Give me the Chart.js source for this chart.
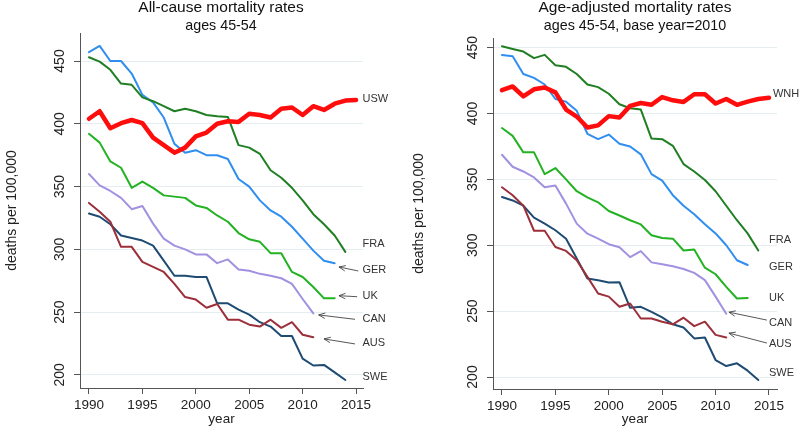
<!DOCTYPE html>
<html>
<head>
<meta charset="utf-8">
<script src="https://cdn.jsdelivr.net/npm/chart.js@4/dist/chart.umd.min.js"></script>
<style>
body { margin: 0; background: #fff; }
#wrap { display: flex; width: 800px; height: 428px; }
canvas { display: block; }
</style>
</head>
<body>
<div id="wrap">
	<canvas id="left" width="400" height="428"></canvas>
	<canvas id="right" width="400" height="428"></canvas>
</div>
<script>
var years = [1990, 1991, 1992, 1993, 1994, 1995, 1996, 1997, 1998, 1999, 2000, 2001, 2002,
	2003, 2004, 2005, 2006, 2007, 2008, 2009, 2010, 2011, 2012, 2013, 2014, 2015];
var xTicks = [1990, 1995, 2000, 2005, 2010, 2015];
var yTicks = [200, 250, 300, 350, 400, 450];

// all-cause mortality, ages 45-54 (deaths per 100,000), starting 1990
var allUSW = [404, 410, 396.5, 400.5, 403, 400.5, 389, 383, 377, 381, 390, 393, 400, 402, 401.5, 408, 407, 405, 412, 413, 407, 414, 411, 416, 418.5, 419];
var allFRA = [453, 449.5, 443, 432, 431, 421, 418, 414, 410, 412, 410, 407, 406, 405.5, 383, 381, 376, 363, 357, 349, 339, 328, 320, 311, 298];
var allGER = [457, 462, 450, 450, 440, 423, 417, 405, 384, 377, 379, 375, 375, 372, 356, 350, 339, 331, 326, 318, 308.5, 299, 291, 289];
var allUK = [392, 385, 370, 365, 349, 354, 349, 343, 342, 341, 335, 333, 327, 322, 313, 308, 306, 297, 297, 282, 278, 270, 261, 261];
var allCAN = [360, 351, 346.5, 341, 332, 334.5, 320.5, 308.5, 303, 300, 296, 296, 289, 292, 284, 283, 280.5, 279, 277, 272.5, 260.5, 249];
var allAUS = [337, 330, 322, 302, 302, 290, 286, 282, 272.5, 262, 260, 253.5, 256.5, 244, 244, 240, 238.5, 244, 237.5, 242, 232, 230];
var allSWE = [328.5, 326, 320, 311, 309, 307, 303, 291, 279, 279, 278, 278, 257, 257, 252, 248, 242, 238.5, 231, 231, 213, 207.5, 208, 202, 196];

// age-adjusted mortality, ages 45-54, base year 2010, starting 1990
var adjWNH = [417.7, 420.5, 413, 418.4, 419.7, 416, 403, 397.7, 389.4, 391, 398, 397, 405.8, 408, 406.6, 412.5, 410, 408.8, 414.6, 414.6, 407.6, 411, 406.6, 409, 411, 412];
var adjFRA = [451, 449, 447, 442, 444.5, 436.6, 435.4, 430, 422, 420, 415, 407, 404, 403, 381, 380.5, 375.5, 361.6, 356, 349.5, 341, 330, 319, 309, 296];
var adjGER = [444.4, 443.4, 430, 427, 422, 411, 409, 402, 384.6, 380.6, 384, 377, 375, 369, 354, 349, 338, 330, 323.5, 316, 309, 300, 288.6, 285];
var adjUK = [389, 383, 370.5, 370.5, 354, 358.6, 350, 341, 336.4, 332.6, 326, 322.6, 319, 315.8, 307.6, 305.5, 305, 296, 296.7, 283, 278, 268.4, 259.6, 260];
var adjCAN = [368.7, 359.6, 356, 351.5, 344, 345.3, 331.6, 316.4, 308.8, 305, 300.8, 298.5, 291, 295.5, 287, 285.5, 284, 282, 279, 273.5, 261, 248];
var adjAUS = [344, 338, 330, 311, 311, 298.7, 295.7, 288.6, 276, 263.4, 261, 253.3, 255.8, 244.4, 244.4, 242, 240, 245, 238.6, 242, 232, 230];
var adjSWE = [336.6, 334, 330, 321, 316.4, 311.4, 305, 290, 274.7, 273.5, 271.7, 272, 252.5, 253.3, 249.5, 245.3, 240, 237.6, 229.3, 230, 212.9, 208.3, 210.4, 204.8, 197.7];

var FONT = '"Liberation Sans", Arial, sans-serif';
var colors = {
	red: '#ff0d0d', FRA: '#1f7f22', GER: '#2f8ef0', UK: '#22b222',
	CAN: '#a290e0', AUS: '#9c2f3a', SWE: '#1f4b72'
};

function ucwp_points(vals) {
	return vals.map(function (v, i) { return { x: years[i], y: v }; });
}

function ucwp_series(label, vals, color, width) {
	return {
		label: label,
		data: ucwp_points(vals),
		borderColor: color,
		borderWidth: width,
		pointRadius: 0,
		tension: 0,
		borderJoinStyle: 'round',
		borderCapStyle: 'round'
	};
}

function ucwp_arrow(ctx, x1, y1, x2, y2) {
	// tail (x1,y1) -> head (x2,y2)
	var a = Math.atan2(y2 - y1, x2 - x1), len = 7;
	ctx.beginPath();
	ctx.moveTo(x1, y1);
	ctx.lineTo(x2, y2);
	ctx.moveTo(x2 - len * Math.cos(a - 0.4), y2 - len * Math.sin(a - 0.4));
	ctx.lineTo(x2, y2);
	ctx.lineTo(x2 - len * Math.cos(a + 0.4), y2 - len * Math.sin(a + 0.4));
	ctx.stroke();
}

var extras = {
	id: 'extras',
	afterDraw: function (chart, args, o) {
		var ctx = chart.ctx, xs = chart.scales.x, ys = chart.scales.y, ca = chart.chartArea;
		ctx.save();
		ctx.fillStyle = '#111';
		ctx.textAlign = 'center';
		ctx.textBaseline = 'middle';
		ctx.font = '15.5px ' + FONT;
		ctx.fillText(o.title, o.titleX, 8);
		ctx.font = '14.3px ' + FONT;
		ctx.fillText(o.subtitle, o.titleX, 26);

		// rotated y tick labels
		ctx.fillStyle = '#222';
		ctx.font = '14px ' + FONT;
		yTicks.forEach(function (v) {
			ctx.save();
			ctx.translate(ca.left - 20, ys.getPixelForValue(v));
			ctx.rotate(-Math.PI / 2);
			ctx.fillText(String(v), 0, 0);
			ctx.restore();
		});
		ctx.save();
		ctx.translate(o.yTitleX, (ca.top + ca.bottom) / 2);
		ctx.rotate(-Math.PI / 2);
		ctx.fillText('deaths per 100,000', 0, 0);
		ctx.restore();

		// series labels
		ctx.fillStyle = '#333';
		ctx.font = '11px ' + FONT;
		ctx.textAlign = 'left';
		o.labels.forEach(function (l) {
			ctx.fillText(l[0], xs.getPixelForValue(l[1]), ys.getPixelForValue(l[2]));
		});
		ctx.strokeStyle = '#444';
		ctx.lineWidth = 0.9;
		o.arrows.forEach(function (a) {
			ucwp_arrow(ctx, xs.getPixelForValue(a[0]), ys.getPixelForValue(a[1]),
				xs.getPixelForValue(a[2]), ys.getPixelForValue(a[3]));
		});
		ctx.restore();
	}
};

function ucwp_chart(canvas_id, datasets, s) {
	return new Chart(document.getElementById(canvas_id), {
		type: 'line',
		data: { datasets: datasets },
		plugins: [extras],
		options: {
			responsive: false,
			animation: false,
			layout: { padding: { top: s.top, right: s.right, left: 0, bottom: 0 } },
			plugins: {
				legend: { display: false },
				tooltip: { enabled: false },
				extras: s.extras
			},
			scales: {
				x: {
					type: 'linear',
					min: s.xMin, max: s.xMax,
					afterBuildTicks: function (sc) { sc.ticks = xTicks.map(function (v) { return { value: v }; }); },
					afterFit: function (sc) { sc.height = 428 - s.bottom; },
					grid: { drawOnChartArea: false, drawTicks: true, tickLength: 6, tickColor: '#555' },
					border: { display: true, color: '#555', width: 1 },
					ticks: {
						color: '#222', font: { family: FONT, size: 13.5 }, padding: 3,
						maxRotation: 0, autoSkip: false,
						callback: function (v) { return String(v); }
					},
					title: { display: true, text: 'year', color: '#222', font: { family: FONT, size: 13.5 }, padding: { top: 0, bottom: 1 } }
				},
				y: {
					min: s.yMin, max: s.yMax,
					afterBuildTicks: function (sc) { sc.ticks = yTicks.map(function (v) { return { value: v }; }); },
					afterFit: function (sc) { sc.width = s.left; },
					grid: { color: '#e4eef0', lineWidth: 1, drawTicks: true, tickLength: 6, tickColor: '#555' },
					border: { display: true, color: '#555', width: 1 },
					ticks: { display: false }
				}
			}
		}
	});
}

ucwp_chart('left', [
	ucwp_series('USW', allUSW, colors.red, 4.5),
	ucwp_series('FRA', allFRA, colors.FRA, 2),
	ucwp_series('GER', allGER, colors.GER, 2),
	ucwp_series('UK', allUK, colors.UK, 2),
	ucwp_series('CAN', allCAN, colors.CAN, 2),
	ucwp_series('AUS', allAUS, colors.AUS, 2),
	ucwp_series('SWE', allSWE, colors.SWE, 2)
], {
	top: 33, right: 37, bottom: 388, left: 80,
	xMin: 1989.16, xMax: 2015.65, yMin: 189.6, yMax: 472.3,
	extras: {
		title: 'All-cause mortality rates', subtitle: 'ages 45-54', titleX: 221, yTitleX: 12,
		labels: [['USW', 2015.6, 420], ['FRA', 2015.6, 304], ['GER', 2015.6, 283.6], ['UK', 2015.6, 263],
			['CAN', 2015.6, 244.6], ['AUS', 2015.6, 225.5], ['SWE', 2015.6, 198.4]],
		arrows: [[2015.2, 282.8, 2013.4, 286], [2015.1, 262.3, 2013.4, 263.1],
			[2014.9, 244.3, 2011.5, 247.8], [2014.9, 224.7, 2012.0, 228.7]]
	}
});

ucwp_chart('right', [
	ucwp_series('WNH', adjWNH, colors.red, 4.5),
	ucwp_series('FRA', adjFRA, colors.FRA, 2),
	ucwp_series('GER', adjGER, colors.GER, 2),
	ucwp_series('UK', adjUK, colors.UK, 2),
	ucwp_series('CAN', adjCAN, colors.CAN, 2),
	ucwp_series('AUS', adjAUS, colors.AUS, 2),
	ucwp_series('SWE', adjSWE, colors.SWE, 2)
], {
	top: 38, right: 23, bottom: 389, left: 93,
	xMin: 1989.16, xMax: 2015.75, yMin: 190.9, yMax: 457.3,
	extras: {
		title: 'Age-adjusted mortality rates', subtitle: 'ages 45-54, base year=2010', titleX: 235, yTitleX: 19,
		labels: [['WNH', 2015.37, 415.2], ['FRA', 2015.0, 303.8], ['GER', 2015.0, 283.3], ['UK', 2015.0, 259.8],
			['CAN', 2015.0, 240.9], ['AUS', 2015.0, 225], ['SWE', 2015.0, 203]],
		arrows: [[2014.8, 243.2, 2011.25, 249.2], [2014.8, 225.8, 2011.25, 233.3]]
	}
});
</script>
</body>
</html>
